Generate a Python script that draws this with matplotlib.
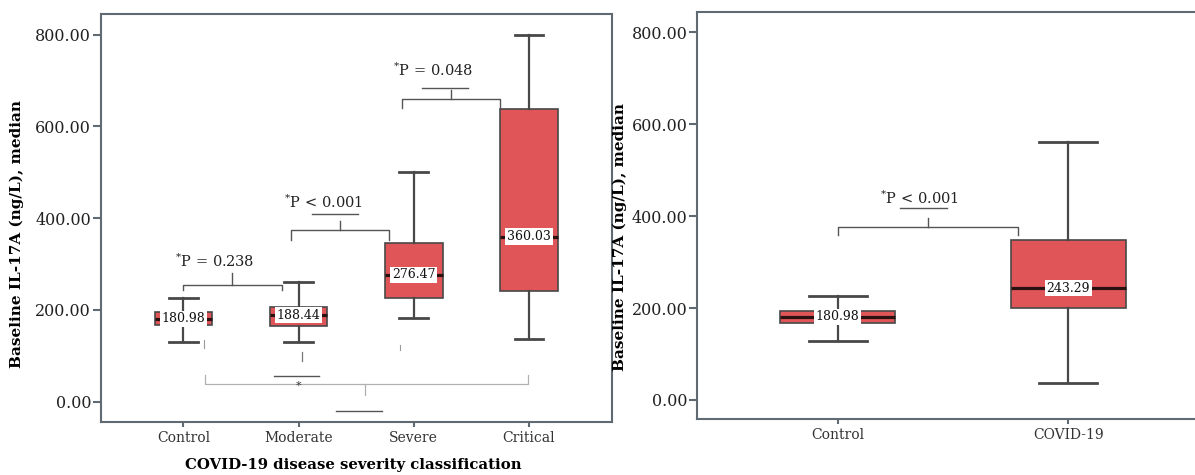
import matplotlib
matplotlib.use("Agg")
import matplotlib.pyplot as plt

plt.rcParams['font.family'] = ['DejaVu Serif']
plt.rcParams['mathtext.fontset'] = 'dejavuserif'

# ---- data ----
sev_categories = ["Control", "Moderate", "Severe", "Critical"]
sev_medians = [180.98, 188.44, 276.47, 360.03]
sev_q1 = [167, 164, 227, 241]
sev_q3 = [196, 206, 347, 637]
sev_whislo = [130, 130, 182, 136]
sev_whishi = [227, 262, 500, 800]

grp_categories = ["Control", "COVID-19"]
grp_medians = [180.98, 243.29]
grp_q1 = [167, 200]
grp_q3 = [194, 348]
grp_whislo = [129, 36]
grp_whishi = [227, 562]

yticks = [0, 200, 400, 600, 800]
ytick_labels = ["0.00", "200.00", "400.00", "600.00", "800.00"]
ylabel = "Baseline IL-17A (ng/L), median"
xlabel_left = "COVID-19 disease severity classification"

BOX = "#E05558"
EDGE = "#484848"
SPINE = "#5f6a73"

fig = plt.figure(figsize=(11.95, 4.75), dpi=100)
axL = fig.add_axes([0.0843, 0.1109, 0.4281, 0.8596])
axR = fig.add_axes([0.5835, 0.1173, 0.4249, 0.8568])


def make_stats(labels, med, q1, q3, lo, hi):
    return [dict(label=l, med=m, q1=a, q3=b, whislo=c, whishi=d, fliers=[])
            for l, m, a, b, c, d in zip(labels, med, q1, q3, lo, hi)]


def draw(ax, stats, xlim, ylim):
    pos = list(range(1, len(stats) + 1))
    ax.bxp(stats, positions=pos, widths=0.5, capwidths=0.25, patch_artist=True,
           boxprops=dict(facecolor=BOX, edgecolor=EDGE, linewidth=1.2),
           medianprops=dict(color="#2a1212", linewidth=2.3),
           whiskerprops=dict(color=EDGE, linewidth=1.6),
           capprops=dict(color=EDGE, linewidth=2.0), showfliers=False)
    for p, s in zip(pos, stats):
        ax.text(p, s['med'], f"{s['med']:.2f}", ha='center', va='center',
                fontsize=9, color='#111111', zorder=5,
                bbox=dict(facecolor='white', edgecolor='none', pad=1.2))
    ax.set_xlim(*xlim)
    ax.set_ylim(*ylim)
    ax.set_yticks(yticks)
    ax.set_yticklabels(ytick_labels, fontsize=11.5, color='#222222')
    ax.set_xticks(pos)
    ax.set_xticklabels([s['label'] for s in stats], fontsize=10, color='#333333')
    ax.tick_params(axis='x', direction='out', length=3.5, width=1.5, color=SPINE, pad=3)
    ax.tick_params(axis='y', direction='out', length=5.5, width=1.5, color=SPINE, pad=1.5)
    for sp in ax.spines.values():
        sp.set_color(SPINE)
        sp.set_linewidth(1.5)


draw(axL, make_stats(sev_categories, sev_medians, sev_q1, sev_q3, sev_whislo, sev_whishi),
     (0.283, 4.723), (-44.9, 845))
draw(axR, make_stats(grp_categories, grp_medians, grp_q1, grp_q3, grp_whislo, grp_whishi),
     (0.391, 2.593), (-42, 843.7))


def bracket(ax, x0, x1, ybar, yend, xm, ynotch, color="#555555", lw=1.0):
    ax.plot([x0, x0, x1, x1], [yend, ybar, ybar, yend], color=color, lw=lw, zorder=3)
    ax.plot([xm, xm], [ybar, ynotch], color=color, lw=lw, zorder=3)


# left panel annotations
bracket(axL, 1.0, 1.857, 254.3, 243.4, 1.419, 280.5)
bracket(axL, 1.937, 2.785, 375.1, 352.6, 2.363, 394.8)
bracket(axL, 2.894, 3.749, 659.5, 640.5, 3.323, 679.8)
axL.plot([2.117, 2.515], [408.7, 408.7], color="#555555", lw=1.0)
axL.plot([3.074, 3.473], [684.2, 684.2], color="#555555", lw=1.0)
axL.text(1.274, 305.3, r"$^{*}$P = 0.238", ha='center', va='center', fontsize=10.5, color='#222222')
axL.text(2.211, 434, r"$^{*}$P < 0.001", ha='center', va='center', fontsize=10.5, color='#222222')
axL.text(3.164, 721.9, r"$^{*}$P = 0.048", ha='center', va='center', fontsize=10.5, color='#222222')
# faint bottom bracket
bracket(axL, 1.189, 3.991, 37.9, 58.2, 2.575, 14.6, color="#b0b0b0", lw=0.9)
axL.plot([1.788, 2.176], [56.7, 56.7], color="#555555", lw=1.0)
axL.plot([2.323, 2.728], [-20.9, -20.9], color="#555555", lw=1.0)
axL.text(1.997, 34.9, "*", ha='center', va='center', fontsize=8, color='#333333')
axL.plot([1.179, 1.179], [134, 117], color="#999999", lw=0.8)
axL.plot([2.027, 2.027], [108, 88], color="#777777", lw=0.9)
axL.plot([2.884, 2.884], [123, 113], color="#999999", lw=0.8)

axL.set_ylabel(ylabel, fontsize=11, fontweight='bold')
axL.yaxis.set_label_coords(-0.15, 0.46)
axL.set_xlabel(xlabel_left, fontsize=10.7, fontweight='bold')
axL.xaxis.set_label_coords(0.493, -0.087)

# right panel annotations
bracket(axR, 1.0, 1.783, 377.1, 359.1, 1.39, 396.1)
axR.plot([1.27, 1.473], [417.8, 417.8], color="#555555", lw=1.0)
axR.text(1.352, 439, r"$^{*}$P < 0.001", ha='center', va='center', fontsize=10.5, color='#222222')
axR.set_ylabel(ylabel, fontsize=11, fontweight='bold')
axR.yaxis.set_label_coords(-0.138, 0.448)

fig.savefig("out.png", dpi=100)
